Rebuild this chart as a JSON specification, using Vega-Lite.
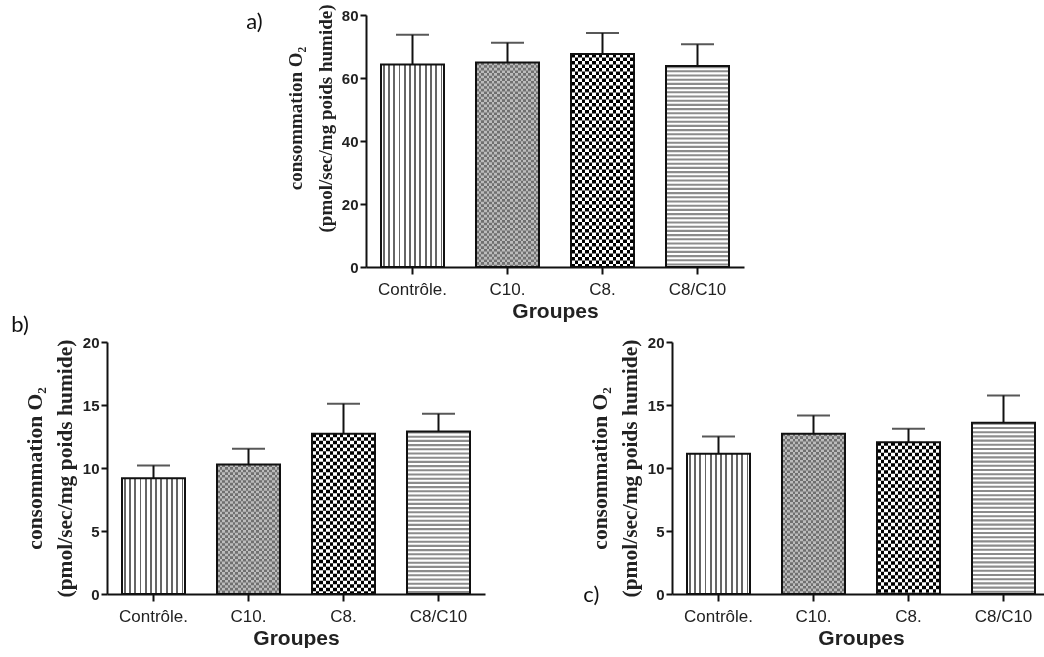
{
"$schema": "https://vega.github.io/schema/vega-lite/v6.json",
"padding": {"left": 11, "top": 3, "right": 0, "bottom": 0},
"datasets": {
 "a": [{"g":"Contrôle.","m":64.3,"u":73.7},{"g":"C10.","m":64.9,"u":71.2},{"g":"C8.","m":67.6,"u":74.3},{"g":"C8/C10","m":63.8,"u":70.7}],
 "b": [{"g":"Contrôle.","m":9.19,"u":10.2},{"g":"C10.","m":10.28,"u":11.52},{"g":"C8.","m":12.72,"u":15.1},{"g":"C8/C10","m":12.9,"u":14.3}],
 "c": [{"g":"Contrôle.","m":11.13,"u":12.5},{"g":"C10.","m":12.72,"u":14.17},{"g":"C8.","m":12.05,"u":13.11},{"g":"C8/C10","m":13.59,"u":15.76}]
},
"spacing": -7,
"vconcat": [
 {"spacing": 0, "hconcat": [
  {"width": 139, "height": 1, "data": {"values": []}, "mark": "point", "encoding": {}},
  {"width": 378, "height": 252, "data": {"name": "a"},
   "title": {"text": "a)", "dx": -40, "dy": 34},
   "encoding": {
    "x": {"field": "g", "type": "nominal", "sort": null, "scale": {"domain": ["Contrôle.","C10.","C8.","C8/C10"], "paddingInner": 0.3368421, "paddingOuter": 0.1578947}, "axis": {"title": "Groupes"}},
    "y": {"field": "m", "type": "quantitative", "scale": {"domain": [0, 80], "nice": false}, "axis": {"values": [0,20,40,60,80], "titleY": 103, "title": ["consommation O₂", "(pmol/sec/mg poids humide)"]}}
   },
   "layer": [
    {"transform": [{"filter": "datum.g==='Contrôle.'"}], "mark": {"type": "bar", "strokeWidth": 0, "fill": {"gradient":"linear","x1":0,"y1":0,"x2":1,"y2":0,"stops":[{"offset":0,"color":"#fff"},{"offset":0.0278,"color":"#fff"},{"offset":0.0278,"color":"#666"},{"offset":0.0556,"color":"#666"},{"offset":0.0556,"color":"#fff"},{"offset":0.1111,"color":"#fff"},{"offset":0.1111,"color":"#666"},{"offset":0.1389,"color":"#666"},{"offset":0.1389,"color":"#fff"},{"offset":0.1945,"color":"#fff"},{"offset":0.1945,"color":"#666"},{"offset":0.2223,"color":"#666"},{"offset":0.2223,"color":"#fff"},{"offset":0.2778,"color":"#fff"},{"offset":0.2778,"color":"#666"},{"offset":0.3056,"color":"#666"},{"offset":0.3056,"color":"#fff"},{"offset":0.3611,"color":"#fff"},{"offset":0.3611,"color":"#666"},{"offset":0.3889,"color":"#666"},{"offset":0.3889,"color":"#fff"},{"offset":0.4445,"color":"#fff"},{"offset":0.4445,"color":"#666"},{"offset":0.4723,"color":"#666"},{"offset":0.4723,"color":"#fff"},{"offset":0.5278,"color":"#fff"},{"offset":0.5278,"color":"#666"},{"offset":0.5556,"color":"#666"},{"offset":0.5556,"color":"#fff"},{"offset":0.6111,"color":"#fff"},{"offset":0.6111,"color":"#666"},{"offset":0.6389,"color":"#666"},{"offset":0.6389,"color":"#fff"},{"offset":0.6945,"color":"#fff"},{"offset":0.6945,"color":"#666"},{"offset":0.7223,"color":"#666"},{"offset":0.7223,"color":"#fff"},{"offset":0.7778,"color":"#fff"},{"offset":0.7778,"color":"#666"},{"offset":0.8056,"color":"#666"},{"offset":0.8056,"color":"#fff"},{"offset":0.8611,"color":"#fff"},{"offset":0.8611,"color":"#666"},{"offset":0.8889,"color":"#666"},{"offset":0.8889,"color":"#fff"},{"offset":0.9445,"color":"#fff"},{"offset":0.9445,"color":"#666"},{"offset":0.9723,"color":"#666"},{"offset":0.9723,"color":"#fff"},{"offset":1,"color":"#fff"}]}}},
    {"transform": [{"filter": "datum.g==='C10.'"}], "mark": {"type": "bar", "strokeWidth": 0, "fill": {"gradient":"linear","x1":0,"y1":0,"x2":1,"y2":0,"stops":[{"offset":0,"color":"#fff"},{"offset":0.0417,"color":"#fff"},{"offset":0.0417,"color":"#000"},{"offset":0.0833,"color":"#000"},{"offset":0.0833,"color":"#fff"},{"offset":0.125,"color":"#fff"},{"offset":0.125,"color":"#000"},{"offset":0.1667,"color":"#000"},{"offset":0.1667,"color":"#fff"},{"offset":0.2083,"color":"#fff"},{"offset":0.2083,"color":"#000"},{"offset":0.25,"color":"#000"},{"offset":0.25,"color":"#fff"},{"offset":0.2917,"color":"#fff"},{"offset":0.2917,"color":"#000"},{"offset":0.3333,"color":"#000"},{"offset":0.3333,"color":"#fff"},{"offset":0.375,"color":"#fff"},{"offset":0.375,"color":"#000"},{"offset":0.4167,"color":"#000"},{"offset":0.4167,"color":"#fff"},{"offset":0.4583,"color":"#fff"},{"offset":0.4583,"color":"#000"},{"offset":0.5,"color":"#000"},{"offset":0.5,"color":"#fff"},{"offset":0.5417,"color":"#fff"},{"offset":0.5417,"color":"#000"},{"offset":0.5833,"color":"#000"},{"offset":0.5833,"color":"#fff"},{"offset":0.625,"color":"#fff"},{"offset":0.625,"color":"#000"},{"offset":0.6667,"color":"#000"},{"offset":0.6667,"color":"#fff"},{"offset":0.7083,"color":"#fff"},{"offset":0.7083,"color":"#000"},{"offset":0.75,"color":"#000"},{"offset":0.75,"color":"#fff"},{"offset":0.7917,"color":"#fff"},{"offset":0.7917,"color":"#000"},{"offset":0.8333,"color":"#000"},{"offset":0.8333,"color":"#fff"},{"offset":0.875,"color":"#fff"},{"offset":0.875,"color":"#000"},{"offset":0.9167,"color":"#000"},{"offset":0.9167,"color":"#fff"},{"offset":0.9583,"color":"#fff"},{"offset":0.9583,"color":"#000"},{"offset":1,"color":"#000"}]}}},
    {"transform": [{"filter": "datum.g==='C8.'"}], "mark": {"type": "bar", "strokeWidth": 0, "fill": {"gradient":"linear","x1":0,"y1":0,"x2":1,"y2":0,"stops":[{"offset":0,"color":"#fff"},{"offset":0.0556,"color":"#fff"},{"offset":0.0556,"color":"#000"},{"offset":0.1111,"color":"#000"},{"offset":0.1111,"color":"#fff"},{"offset":0.1667,"color":"#fff"},{"offset":0.1667,"color":"#000"},{"offset":0.2222,"color":"#000"},{"offset":0.2222,"color":"#fff"},{"offset":0.2778,"color":"#fff"},{"offset":0.2778,"color":"#000"},{"offset":0.3333,"color":"#000"},{"offset":0.3333,"color":"#fff"},{"offset":0.3889,"color":"#fff"},{"offset":0.3889,"color":"#000"},{"offset":0.4444,"color":"#000"},{"offset":0.4444,"color":"#fff"},{"offset":0.5,"color":"#fff"},{"offset":0.5,"color":"#000"},{"offset":0.5556,"color":"#000"},{"offset":0.5556,"color":"#fff"},{"offset":0.6111,"color":"#fff"},{"offset":0.6111,"color":"#000"},{"offset":0.6667,"color":"#000"},{"offset":0.6667,"color":"#fff"},{"offset":0.7222,"color":"#fff"},{"offset":0.7222,"color":"#000"},{"offset":0.7778,"color":"#000"},{"offset":0.7778,"color":"#fff"},{"offset":0.8333,"color":"#fff"},{"offset":0.8333,"color":"#000"},{"offset":0.8889,"color":"#000"},{"offset":0.8889,"color":"#fff"},{"offset":0.9444,"color":"#fff"},{"offset":0.9444,"color":"#000"},{"offset":1,"color":"#000"}]}}},
    {"transform": [{"filter": "datum.g==='C8/C10'"}], "mark": {"type": "bar", "strokeWidth": 0, "fill": "#fff"}},
    {"transform": [{"filter": "datum.g==='C10.'"}], "mark": {"type": "rule", "stroke": "#fff", "strokeWidth": 63, "strokeDash": [2.625, 2.625], "blend": "difference"}, "encoding": {"y2": {"datum": 0}}},
    {"transform": [{"filter": "datum.g==='C8.'"}], "mark": {"type": "rule", "stroke": "#fff", "strokeWidth": 63, "strokeDash": [3.5, 3.5], "blend": "difference"}, "encoding": {"y2": {"datum": 0}}},
    {"transform": [{"filter": "datum.g==='C10.'"}], "mark": {"type": "bar", "strokeWidth": 0, "fill": "#a0a0a0", "opacity": 0.7}},
    {"transform": [{"filter": "datum.g==='C8/C10'"}], "mark": {"type": "rule", "stroke": "#8c8c8c", "strokeWidth": 63, "strokeDash": [2.1, 2.1]}, "encoding": {"y2": {"datum": 0}}},
    {"mark": {"type": "bar", "fillOpacity": 0, "stroke": "#111", "strokeWidth": 2}},
    {"mark": {"type": "rule", "stroke": "#111", "strokeWidth": 2}, "encoding": {"y": {"field": "u", "type": "quantitative"}, "y2": {"field": "m"}}},
    {"mark": {"type": "tick", "color": "#111", "size": 33, "thickness": 2}, "encoding": {"y": {"field": "u", "type": "quantitative"}}}
   ]
  }
 ]},
 {"spacing": 98, "hconcat": [
  {"width": 378, "height": 252, "data": {"name": "b"},
   "title": {"text": "b)", "dx": -13, "offset": -2},
   "encoding": {
    "x": {"field": "g", "type": "nominal", "sort": null, "scale": {"domain": ["Contrôle.","C10.","C8.","C8/C10"], "paddingInner": 0.3368421, "paddingOuter": 0.1578947}, "axis": {"title": "Groupes"}},
    "y": {"field": "m", "type": "quantitative", "scale": {"domain": [0, 20], "nice": false}, "axis": {"values": [0,5,10,15,20], "titleFontSize": 21.5, "title": ["consommation O₂", "(pmol/sec/mg poids humide)"]}}
   },
   "layer": [
    {"transform": [{"filter": "datum.g==='Contrôle.'"}], "mark": {"type": "bar", "strokeWidth": 0, "fill": {"gradient":"linear","x1":0,"y1":0,"x2":1,"y2":0,"stops":[{"offset":0,"color":"#fff"},{"offset":0.0278,"color":"#fff"},{"offset":0.0278,"color":"#666"},{"offset":0.0556,"color":"#666"},{"offset":0.0556,"color":"#fff"},{"offset":0.1111,"color":"#fff"},{"offset":0.1111,"color":"#666"},{"offset":0.1389,"color":"#666"},{"offset":0.1389,"color":"#fff"},{"offset":0.1945,"color":"#fff"},{"offset":0.1945,"color":"#666"},{"offset":0.2223,"color":"#666"},{"offset":0.2223,"color":"#fff"},{"offset":0.2778,"color":"#fff"},{"offset":0.2778,"color":"#666"},{"offset":0.3056,"color":"#666"},{"offset":0.3056,"color":"#fff"},{"offset":0.3611,"color":"#fff"},{"offset":0.3611,"color":"#666"},{"offset":0.3889,"color":"#666"},{"offset":0.3889,"color":"#fff"},{"offset":0.4445,"color":"#fff"},{"offset":0.4445,"color":"#666"},{"offset":0.4723,"color":"#666"},{"offset":0.4723,"color":"#fff"},{"offset":0.5278,"color":"#fff"},{"offset":0.5278,"color":"#666"},{"offset":0.5556,"color":"#666"},{"offset":0.5556,"color":"#fff"},{"offset":0.6111,"color":"#fff"},{"offset":0.6111,"color":"#666"},{"offset":0.6389,"color":"#666"},{"offset":0.6389,"color":"#fff"},{"offset":0.6945,"color":"#fff"},{"offset":0.6945,"color":"#666"},{"offset":0.7223,"color":"#666"},{"offset":0.7223,"color":"#fff"},{"offset":0.7778,"color":"#fff"},{"offset":0.7778,"color":"#666"},{"offset":0.8056,"color":"#666"},{"offset":0.8056,"color":"#fff"},{"offset":0.8611,"color":"#fff"},{"offset":0.8611,"color":"#666"},{"offset":0.8889,"color":"#666"},{"offset":0.8889,"color":"#fff"},{"offset":0.9445,"color":"#fff"},{"offset":0.9445,"color":"#666"},{"offset":0.9723,"color":"#666"},{"offset":0.9723,"color":"#fff"},{"offset":1,"color":"#fff"}]}}},
    {"transform": [{"filter": "datum.g==='C10.'"}], "mark": {"type": "bar", "strokeWidth": 0, "fill": {"gradient":"linear","x1":0,"y1":0,"x2":1,"y2":0,"stops":[{"offset":0,"color":"#fff"},{"offset":0.0417,"color":"#fff"},{"offset":0.0417,"color":"#000"},{"offset":0.0833,"color":"#000"},{"offset":0.0833,"color":"#fff"},{"offset":0.125,"color":"#fff"},{"offset":0.125,"color":"#000"},{"offset":0.1667,"color":"#000"},{"offset":0.1667,"color":"#fff"},{"offset":0.2083,"color":"#fff"},{"offset":0.2083,"color":"#000"},{"offset":0.25,"color":"#000"},{"offset":0.25,"color":"#fff"},{"offset":0.2917,"color":"#fff"},{"offset":0.2917,"color":"#000"},{"offset":0.3333,"color":"#000"},{"offset":0.3333,"color":"#fff"},{"offset":0.375,"color":"#fff"},{"offset":0.375,"color":"#000"},{"offset":0.4167,"color":"#000"},{"offset":0.4167,"color":"#fff"},{"offset":0.4583,"color":"#fff"},{"offset":0.4583,"color":"#000"},{"offset":0.5,"color":"#000"},{"offset":0.5,"color":"#fff"},{"offset":0.5417,"color":"#fff"},{"offset":0.5417,"color":"#000"},{"offset":0.5833,"color":"#000"},{"offset":0.5833,"color":"#fff"},{"offset":0.625,"color":"#fff"},{"offset":0.625,"color":"#000"},{"offset":0.6667,"color":"#000"},{"offset":0.6667,"color":"#fff"},{"offset":0.7083,"color":"#fff"},{"offset":0.7083,"color":"#000"},{"offset":0.75,"color":"#000"},{"offset":0.75,"color":"#fff"},{"offset":0.7917,"color":"#fff"},{"offset":0.7917,"color":"#000"},{"offset":0.8333,"color":"#000"},{"offset":0.8333,"color":"#fff"},{"offset":0.875,"color":"#fff"},{"offset":0.875,"color":"#000"},{"offset":0.9167,"color":"#000"},{"offset":0.9167,"color":"#fff"},{"offset":0.9583,"color":"#fff"},{"offset":0.9583,"color":"#000"},{"offset":1,"color":"#000"}]}}},
    {"transform": [{"filter": "datum.g==='C8.'"}], "mark": {"type": "bar", "strokeWidth": 0, "fill": {"gradient":"linear","x1":0,"y1":0,"x2":1,"y2":0,"stops":[{"offset":0,"color":"#fff"},{"offset":0.0556,"color":"#fff"},{"offset":0.0556,"color":"#000"},{"offset":0.1111,"color":"#000"},{"offset":0.1111,"color":"#fff"},{"offset":0.1667,"color":"#fff"},{"offset":0.1667,"color":"#000"},{"offset":0.2222,"color":"#000"},{"offset":0.2222,"color":"#fff"},{"offset":0.2778,"color":"#fff"},{"offset":0.2778,"color":"#000"},{"offset":0.3333,"color":"#000"},{"offset":0.3333,"color":"#fff"},{"offset":0.3889,"color":"#fff"},{"offset":0.3889,"color":"#000"},{"offset":0.4444,"color":"#000"},{"offset":0.4444,"color":"#fff"},{"offset":0.5,"color":"#fff"},{"offset":0.5,"color":"#000"},{"offset":0.5556,"color":"#000"},{"offset":0.5556,"color":"#fff"},{"offset":0.6111,"color":"#fff"},{"offset":0.6111,"color":"#000"},{"offset":0.6667,"color":"#000"},{"offset":0.6667,"color":"#fff"},{"offset":0.7222,"color":"#fff"},{"offset":0.7222,"color":"#000"},{"offset":0.7778,"color":"#000"},{"offset":0.7778,"color":"#fff"},{"offset":0.8333,"color":"#fff"},{"offset":0.8333,"color":"#000"},{"offset":0.8889,"color":"#000"},{"offset":0.8889,"color":"#fff"},{"offset":0.9444,"color":"#fff"},{"offset":0.9444,"color":"#000"},{"offset":1,"color":"#000"}]}}},
    {"transform": [{"filter": "datum.g==='C8/C10'"}], "mark": {"type": "bar", "strokeWidth": 0, "fill": "#fff"}},
    {"transform": [{"filter": "datum.g==='C10.'"}], "mark": {"type": "rule", "stroke": "#fff", "strokeWidth": 63, "strokeDash": [2.625, 2.625], "blend": "difference"}, "encoding": {"y2": {"datum": 0}}},
    {"transform": [{"filter": "datum.g==='C8.'"}], "mark": {"type": "rule", "stroke": "#fff", "strokeWidth": 63, "strokeDash": [3.5, 3.5], "blend": "difference"}, "encoding": {"y2": {"datum": 0}}},
    {"transform": [{"filter": "datum.g==='C10.'"}], "mark": {"type": "bar", "strokeWidth": 0, "fill": "#a0a0a0", "opacity": 0.7}},
    {"transform": [{"filter": "datum.g==='C8/C10'"}], "mark": {"type": "rule", "stroke": "#8c8c8c", "strokeWidth": 63, "strokeDash": [2.1, 2.1]}, "encoding": {"y2": {"datum": 0}}},
    {"mark": {"type": "bar", "fillOpacity": 0, "stroke": "#111", "strokeWidth": 2}},
    {"mark": {"type": "rule", "stroke": "#111", "strokeWidth": 2}, "encoding": {"y": {"field": "u", "type": "quantitative"}, "y2": {"field": "m"}}},
    {"mark": {"type": "tick", "color": "#111", "size": 33, "thickness": 2}, "encoding": {"y": {"field": "u", "type": "quantitative"}}}
   ]
  },
  {"width": 378, "height": 252, "data": {"name": "c"},
   "title": {"text": "c)", "dx": -6, "dy": 276},
   "encoding": {
    "x": {"field": "g", "type": "nominal", "sort": null, "scale": {"domain": ["Contrôle.","C10.","C8.","C8/C10"], "paddingInner": 0.3368421, "paddingOuter": 0.1578947}, "axis": {"title": "Groupes"}},
    "y": {"field": "m", "type": "quantitative", "scale": {"domain": [0, 20], "nice": false}, "axis": {"values": [0,5,10,15,20], "titleFontSize": 21.5, "title": ["consommation O₂", "(pmol/sec/mg poids humide)"]}}
   },
   "layer": [
    {"transform": [{"filter": "datum.g==='Contrôle.'"}], "mark": {"type": "bar", "strokeWidth": 0, "fill": {"gradient":"linear","x1":0,"y1":0,"x2":1,"y2":0,"stops":[{"offset":0,"color":"#fff"},{"offset":0.0278,"color":"#fff"},{"offset":0.0278,"color":"#666"},{"offset":0.0556,"color":"#666"},{"offset":0.0556,"color":"#fff"},{"offset":0.1111,"color":"#fff"},{"offset":0.1111,"color":"#666"},{"offset":0.1389,"color":"#666"},{"offset":0.1389,"color":"#fff"},{"offset":0.1945,"color":"#fff"},{"offset":0.1945,"color":"#666"},{"offset":0.2223,"color":"#666"},{"offset":0.2223,"color":"#fff"},{"offset":0.2778,"color":"#fff"},{"offset":0.2778,"color":"#666"},{"offset":0.3056,"color":"#666"},{"offset":0.3056,"color":"#fff"},{"offset":0.3611,"color":"#fff"},{"offset":0.3611,"color":"#666"},{"offset":0.3889,"color":"#666"},{"offset":0.3889,"color":"#fff"},{"offset":0.4445,"color":"#fff"},{"offset":0.4445,"color":"#666"},{"offset":0.4723,"color":"#666"},{"offset":0.4723,"color":"#fff"},{"offset":0.5278,"color":"#fff"},{"offset":0.5278,"color":"#666"},{"offset":0.5556,"color":"#666"},{"offset":0.5556,"color":"#fff"},{"offset":0.6111,"color":"#fff"},{"offset":0.6111,"color":"#666"},{"offset":0.6389,"color":"#666"},{"offset":0.6389,"color":"#fff"},{"offset":0.6945,"color":"#fff"},{"offset":0.6945,"color":"#666"},{"offset":0.7223,"color":"#666"},{"offset":0.7223,"color":"#fff"},{"offset":0.7778,"color":"#fff"},{"offset":0.7778,"color":"#666"},{"offset":0.8056,"color":"#666"},{"offset":0.8056,"color":"#fff"},{"offset":0.8611,"color":"#fff"},{"offset":0.8611,"color":"#666"},{"offset":0.8889,"color":"#666"},{"offset":0.8889,"color":"#fff"},{"offset":0.9445,"color":"#fff"},{"offset":0.9445,"color":"#666"},{"offset":0.9723,"color":"#666"},{"offset":0.9723,"color":"#fff"},{"offset":1,"color":"#fff"}]}}},
    {"transform": [{"filter": "datum.g==='C10.'"}], "mark": {"type": "bar", "strokeWidth": 0, "fill": {"gradient":"linear","x1":0,"y1":0,"x2":1,"y2":0,"stops":[{"offset":0,"color":"#fff"},{"offset":0.0417,"color":"#fff"},{"offset":0.0417,"color":"#000"},{"offset":0.0833,"color":"#000"},{"offset":0.0833,"color":"#fff"},{"offset":0.125,"color":"#fff"},{"offset":0.125,"color":"#000"},{"offset":0.1667,"color":"#000"},{"offset":0.1667,"color":"#fff"},{"offset":0.2083,"color":"#fff"},{"offset":0.2083,"color":"#000"},{"offset":0.25,"color":"#000"},{"offset":0.25,"color":"#fff"},{"offset":0.2917,"color":"#fff"},{"offset":0.2917,"color":"#000"},{"offset":0.3333,"color":"#000"},{"offset":0.3333,"color":"#fff"},{"offset":0.375,"color":"#fff"},{"offset":0.375,"color":"#000"},{"offset":0.4167,"color":"#000"},{"offset":0.4167,"color":"#fff"},{"offset":0.4583,"color":"#fff"},{"offset":0.4583,"color":"#000"},{"offset":0.5,"color":"#000"},{"offset":0.5,"color":"#fff"},{"offset":0.5417,"color":"#fff"},{"offset":0.5417,"color":"#000"},{"offset":0.5833,"color":"#000"},{"offset":0.5833,"color":"#fff"},{"offset":0.625,"color":"#fff"},{"offset":0.625,"color":"#000"},{"offset":0.6667,"color":"#000"},{"offset":0.6667,"color":"#fff"},{"offset":0.7083,"color":"#fff"},{"offset":0.7083,"color":"#000"},{"offset":0.75,"color":"#000"},{"offset":0.75,"color":"#fff"},{"offset":0.7917,"color":"#fff"},{"offset":0.7917,"color":"#000"},{"offset":0.8333,"color":"#000"},{"offset":0.8333,"color":"#fff"},{"offset":0.875,"color":"#fff"},{"offset":0.875,"color":"#000"},{"offset":0.9167,"color":"#000"},{"offset":0.9167,"color":"#fff"},{"offset":0.9583,"color":"#fff"},{"offset":0.9583,"color":"#000"},{"offset":1,"color":"#000"}]}}},
    {"transform": [{"filter": "datum.g==='C8.'"}], "mark": {"type": "bar", "strokeWidth": 0, "fill": {"gradient":"linear","x1":0,"y1":0,"x2":1,"y2":0,"stops":[{"offset":0,"color":"#fff"},{"offset":0.0556,"color":"#fff"},{"offset":0.0556,"color":"#000"},{"offset":0.1111,"color":"#000"},{"offset":0.1111,"color":"#fff"},{"offset":0.1667,"color":"#fff"},{"offset":0.1667,"color":"#000"},{"offset":0.2222,"color":"#000"},{"offset":0.2222,"color":"#fff"},{"offset":0.2778,"color":"#fff"},{"offset":0.2778,"color":"#000"},{"offset":0.3333,"color":"#000"},{"offset":0.3333,"color":"#fff"},{"offset":0.3889,"color":"#fff"},{"offset":0.3889,"color":"#000"},{"offset":0.4444,"color":"#000"},{"offset":0.4444,"color":"#fff"},{"offset":0.5,"color":"#fff"},{"offset":0.5,"color":"#000"},{"offset":0.5556,"color":"#000"},{"offset":0.5556,"color":"#fff"},{"offset":0.6111,"color":"#fff"},{"offset":0.6111,"color":"#000"},{"offset":0.6667,"color":"#000"},{"offset":0.6667,"color":"#fff"},{"offset":0.7222,"color":"#fff"},{"offset":0.7222,"color":"#000"},{"offset":0.7778,"color":"#000"},{"offset":0.7778,"color":"#fff"},{"offset":0.8333,"color":"#fff"},{"offset":0.8333,"color":"#000"},{"offset":0.8889,"color":"#000"},{"offset":0.8889,"color":"#fff"},{"offset":0.9444,"color":"#fff"},{"offset":0.9444,"color":"#000"},{"offset":1,"color":"#000"}]}}},
    {"transform": [{"filter": "datum.g==='C8/C10'"}], "mark": {"type": "bar", "strokeWidth": 0, "fill": "#fff"}},
    {"transform": [{"filter": "datum.g==='C10.'"}], "mark": {"type": "rule", "stroke": "#fff", "strokeWidth": 63, "strokeDash": [2.625, 2.625], "blend": "difference"}, "encoding": {"y2": {"datum": 0}}},
    {"transform": [{"filter": "datum.g==='C8.'"}], "mark": {"type": "rule", "stroke": "#fff", "strokeWidth": 63, "strokeDash": [3.5, 3.5], "blend": "difference"}, "encoding": {"y2": {"datum": 0}}},
    {"transform": [{"filter": "datum.g==='C10.'"}], "mark": {"type": "bar", "strokeWidth": 0, "fill": "#a0a0a0", "opacity": 0.7}},
    {"transform": [{"filter": "datum.g==='C8/C10'"}], "mark": {"type": "rule", "stroke": "#8c8c8c", "strokeWidth": 63, "strokeDash": [2.1, 2.1]}, "encoding": {"y2": {"datum": 0}}},
    {"mark": {"type": "bar", "fillOpacity": 0, "stroke": "#111", "strokeWidth": 2}},
    {"mark": {"type": "rule", "stroke": "#111", "strokeWidth": 2}, "encoding": {"y": {"field": "u", "type": "quantitative"}, "y2": {"field": "m"}}},
    {"mark": {"type": "tick", "color": "#111", "size": 33, "thickness": 2}, "encoding": {"y": {"field": "u", "type": "quantitative"}}}
   ]
  }
 ]}
],
"config": {
 "view": {"stroke": null},
 "axis": {"domainColor": "#111", "domainWidth": 2, "tickColor": "#111", "tickWidth": 2, "grid": false, "labelColor": "#222", "titleColor": "#222"},
 "axisX": {"tickSize": 7, "labelFont": "Liberation Sans", "labelFontSize": 17, "labelAngle": 0, "labelPadding": 7, "titleFont": "Liberation Sans", "titleFontSize": 21, "titleFontWeight": "bold", "titlePadding": 3},
 "axisY": {"tickSize": 6, "labelFont": "Liberation Sans", "labelFontSize": 15, "labelFontWeight": "bold", "labelPadding": 2, "titleFont": "Liberation Serif", "titleFontSize": 19, "titleFontWeight": "bold", "titleLineHeight": 30, "titlePadding": 6},
 "title": {"font": "Lato", "fontSize": 22, "fontWeight": "normal", "color": "#111", "anchor": "start", "frame": "bounds", "offset": 0}
}
}
